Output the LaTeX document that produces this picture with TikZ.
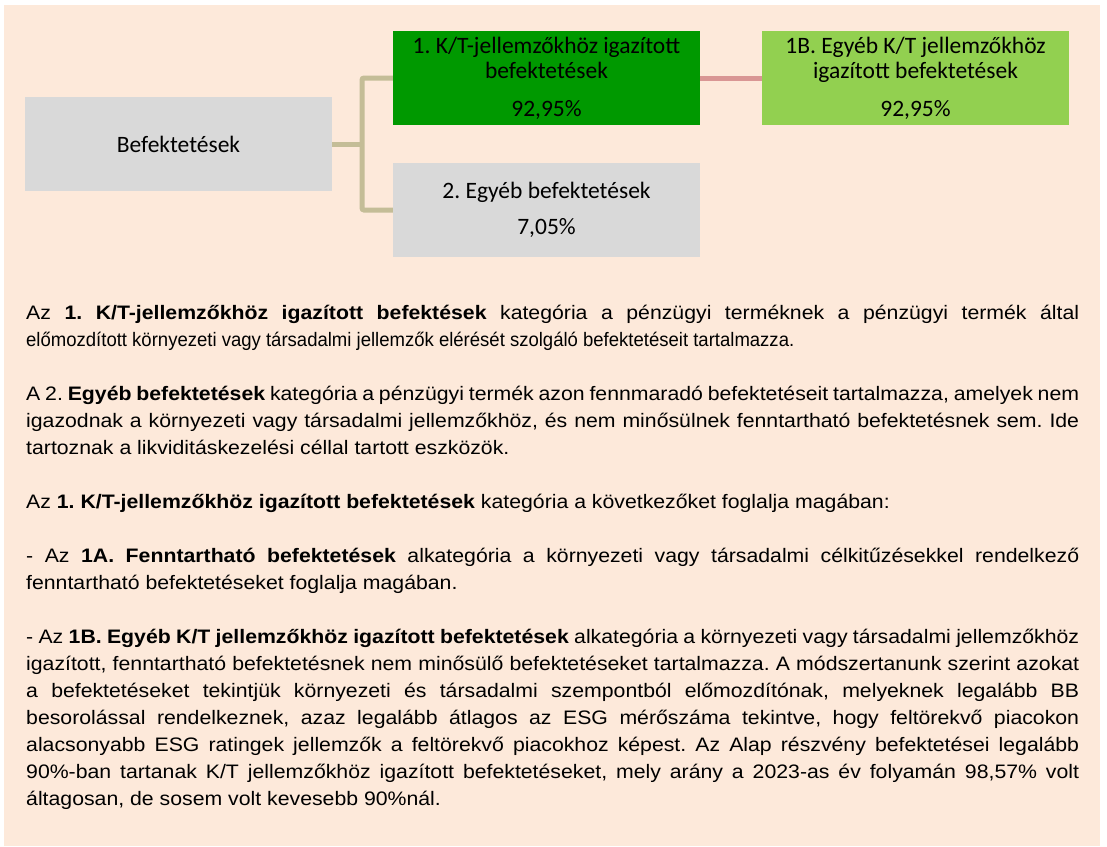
\documentclass[tikz,border=0pt]{standalone}
\usepackage{fontspec}
\setmainfont{Liberation Sans}
\newfontfamily\bodywide[FakeStretch=1.09]{Liberation Sans}
\newfontfamily\bodynarrow[FakeStretch=0.95]{Liberation Sans}
\newfontfamily\boxfont{Carlito}
\definecolor{bgpeach}{HTML}{FDE9DA}
\definecolor{boxgrey}{HTML}{D9D9D9}
\definecolor{darkgreen}{HTML}{009900}
\definecolor{lightgreen}{HTML}{92D050}
\definecolor{tanline}{HTML}{C4BD97}
\definecolor{pinkline}{HTML}{D99694}
\tikzset{
  catbox/.style={minimum width=307pt, minimum height=94pt, inner sep=0pt, align=center,
    font=\boxfont\fontsize{23.5}{25}\selectfont, text=black},
  tanconn/.style={draw=tanline, line width=5pt, rounded corners=2pt},
  pinkconn/.style={draw=pinkline, line width=5pt},
}
\begin{document}
\frenchspacing
\begin{tikzpicture}[x=1pt,y=-1pt]
\useasboundingbox (0,0) rectangle (1107,846);
\fill[bgpeach] (4,5) rectangle (1100,846);
% boxes
\node[catbox, fill=boxgrey] (bef) at (178.5,144) {Befektetések};
\node[catbox, fill=darkgreen] (g1) at (546.5,78) {1. K/T-jellemzőkhöz igazított\\befektetések\\[13pt]92,95\%};
\node[catbox, fill=lightgreen] (b1) at (915.5,78) {1B. Egyéb K/T jellemzőkhöz\\igazított befektetések\\[13pt]92,95\%};
\node[catbox, fill=boxgrey] (g2) at (546.5,210) {2. Egyéb befektetések\\[11pt]7,05\%};
% connectors
\coordinate (j) at (362,144);
\draw[tanconn] (g1.west) -| (j) |- (g2.west);
\draw[tanconn] (bef.east) -- (j);
\draw[pinkconn] (g1.east) -- (b1.west);
% body text
\node[anchor=north west, inner sep=0pt, text width=1053pt, align=justify,
  font=\fontsize{19.5}{27}\selectfont] (body) at (26,300.1) {%
\setlength{\parskip}{27pt}\frenchspacing
{\bodywide\strut Az \textbf{1. K/T-jellemzőkhöz igazított befektések} kategória a pénzügyi terméknek a pénzügyi termék által}\linebreak
{\bodynarrow előmozdított környezeti vagy társadalmi jellemzők elérését szolgáló befektetéseit tartalmazza.}\par
{\bodywide A 2. \textbf{Egyéb befektetések} kategória a pénzügyi termék azon fennmaradó befektetéseit tartalmazza, amelyek nem\linebreak
igazodnak a környezeti vagy társadalmi jellemzőkhöz, és nem minősülnek fenntartható befektetésnek sem. Ide\linebreak
tartoznak a likviditáskezelési céllal tartott eszközök.\par
Az \textbf{1. K/T-jellemzőkhöz igazított befektetések} kategória a következőket foglalja magában:\par
- Az \textbf{1A. Fenntartható befektetések} alkategória a környezeti vagy társadalmi célkitűzésekkel rendelkező\linebreak
fenntartható befektetéseket foglalja magában.\par
- Az \textbf{1B. Egyéb K/T jellemzőkhöz igazított befektetések} alkategória a környezeti vagy társadalmi jellemzőkhöz\linebreak
igazított, fenntartható befektetésnek nem minősülő befektetéseket tartalmazza. A módszertanunk szerint azokat\linebreak
a befektetéseket tekintjük környezeti és társadalmi szempontból előmozdítónak, melyeknek legalább BB\linebreak
besorolással rendelkeznek, azaz legalább átlagos az ESG mérőszáma tekintve, hogy feltörekvő piacokon\linebreak
alacsonyabb ESG ratingek jellemzők a feltörekvő piacokhoz képest. Az Alap részvény befektetései legalább\linebreak
90\%-ban tartanak K/T jellemzőkhöz igazított befektetéseket, mely arány a 2023-as év folyamán 98,57\% volt\linebreak
áltagosan, de sosem volt kevesebb 90\%nál.\par}};
\end{tikzpicture}
\end{document}
